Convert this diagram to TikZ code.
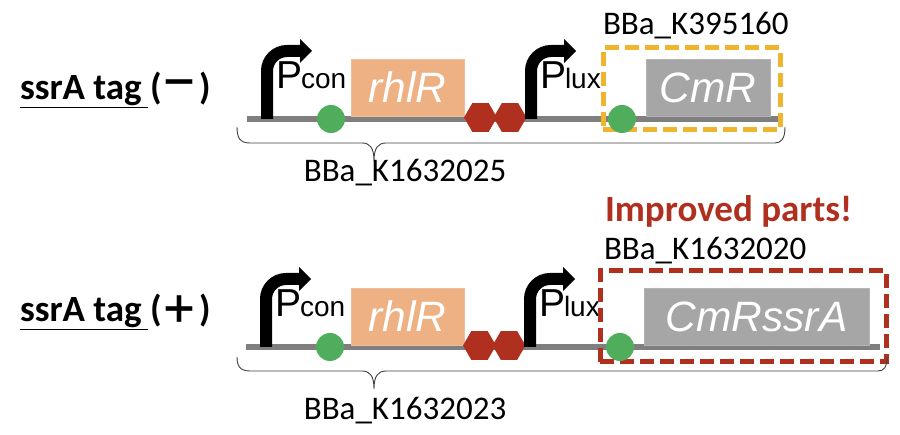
\documentclass[tikz,border=0pt]{standalone}
\usepackage{fontspec}
\setmainfont{Carlito}
\newfontfamily\arialf{Liberation Sans}
\newfontfamily\cjkf{Noto Sans CJK JP}
\usetikzlibrary{arrows.meta,shapes.geometric}
\definecolor{redd}{HTML}{B03020}
\definecolor{peach}{HTML}{EDB183}
\definecolor{gbox}{HTML}{A6A6A6}
\definecolor{gline}{HTML}{7F7F7F}
\definecolor{grn}{HTML}{4FAD5B}
\definecolor{yel}{HTML}{EFB52F}
\tikzset{
 x=1pt,y=-1pt,
 every node/.style={inner sep=0pt,outer sep=0pt},
 backbone/.style={draw=gline,line width=6pt},
 promoter/.style={draw=black,line width=12pt,rounded corners=20pt},
 head/.style={fill=black,draw=none},
 rbs/.style={circle,fill=grn,minimum size=28pt},
 genebox/.style={fill=#1,draw=#1!85!white,line width=.8pt,anchor=north west,text=white,font=\arialf\itshape\fontsize{42.5}{44}\selectfont},
 term/.style={regular polygon,regular polygon sides=6,shape border rotate=0,fill=redd,minimum size=33pt},
 pbig/.style={font=\arialf\fontsize{39}{41}\selectfont,anchor=base west},
 psmall/.style={font=\arialf\fontsize{28}{30}\selectfont,anchor=base west},
 lab/.style={font=\fontsize{33}{35}\selectfont,text=black},
 tagl/.style={font=\bfseries\fontsize{37}{39}\selectfont,anchor=base west},
 brace/.style={draw=black!75,line width=.9pt},
 dashbox/.style={draw=#1,line width=5pt,dash pattern=on 14pt off 6pt,anchor=north west},
}
\newcommand{\promo}[4]{% x, ybase, name, small text
 \coordinate (#3b) at (#1,#2);
 \coordinate (#3t) at (#1+33,#2-68);
 \draw[promoter] (#3b) -- (#1,#2-68) -- (#3t);
 \fill[head] (#1+33,#2-80) -- (#1+45,#2-68) -- (#1+33,#2-56) -- cycle;
 \node[pbig] (#3P) at (#1+9,#2-30) {P};
 \node[psmall] (#3S) at (#1+34,#2-30) {#4};
}
\begin{document}
\begin{tikzpicture}
\useasboundingbox (0,0) rectangle (900,435);
% top row
\node[tagl] (tag1) at (20,100) {\underline{ssrA tag\,}};
\node[tagl] (po1) at (150,100) {(};
\node[font=\cjkf\bfseries\fontsize{38}{40}\selectfont] (m1) at (179,88) {－};
\node[tagl] (pc1) at (199,100) {)};
\coordinate (bbl1) at (247,119); \coordinate (bbr1) at (780,119);
\draw[backbone] (bbl1) -- (bbr1);
\promo{267}{119}{pa}{con}
\node[genebox=peach,minimum width=113pt,minimum height=57pt] (rh1) at (351,59) {rhlR};
\node[term] (t1a) at (480.5,117.5) {};
\node[term] (t1b) at (510,117.5) {};
\promo{531}{119}{pb}{lux}
\node[rbs] (r1a) at (331,119) {};
\node[genebox=gbox,minimum width=124pt,minimum height=57pt] (cm1) at (646,59) {CmR};
\node[dashbox=yel,minimum width=177pt,minimum height=82pt] (y1) at (603,48) {};
\node[rbs] (r1b) at (622,119) {};
\draw[brace] (237,127) .. controls (237,138) and (240,143) .. (250,143) -- (362,143) .. controls (370,143) and (374,148) .. (374,161) .. controls (374,148) and (378,143) .. (386,143) -- (775,143) .. controls (781,143) and (785,139) .. (785,127);
\node[lab] (l1) at (405,173) {BBa\_K1632025};
\node[lab,anchor=west] (l2) at (603,26) {BBa\_K395160};
% bottom row
\node[tagl] (tag2) at (20,322) {\underline{ssrA tag\,}};
\node[tagl] (po2) at (150,322) {(};
\node[font=\cjkf\bfseries\fontsize{38}{40}\selectfont] (m2) at (179,310) {＋};
\node[tagl] (pc2) at (199,322) {)};
\coordinate (bbl2) at (246,347); \coordinate (bbr2) at (880,347);
\draw[backbone] (bbl2) -- (bbr2);
\promo{266}{347}{pc}{con}
\node[genebox=peach,minimum width=113pt,minimum height=57pt] (rh2) at (351,288) {rhlR};
\node[term] (t2a) at (479.5,345.5) {};
\node[term] (t2b) at (509,345.5) {};
\promo{530}{347}{pd}{lux}
\node[rbs] (r2a) at (330,347) {};
\node[genebox=gbox,minimum width=225pt,minimum height=57pt] (cm2) at (644,288) {CmRssrA};
\node[dashbox=redd,minimum width=286pt,minimum height=91pt] (y2) at (600,271) {};
\node[rbs] (r2b) at (620,347) {};
\draw[brace] (237,357) .. controls (237,366) and (240,371) .. (250,371) -- (362,371) .. controls (370,371) and (374,376) .. (374,389) .. controls (374,376) and (378,371) .. (386,371) -- (878,371) .. controls (884,371) and (887,367) .. (887,357);
\node[lab] (l3) at (405,411) {BBa\_K1632023};
\node[lab,anchor=west] (l4) at (604,251) {BBa\_K1632020};
\node[anchor=west,text=redd,font=\bfseries\fontsize{37}{39}\selectfont] (imp) at (605,211) {Improved parts!};
\end{tikzpicture}
\end{document}
